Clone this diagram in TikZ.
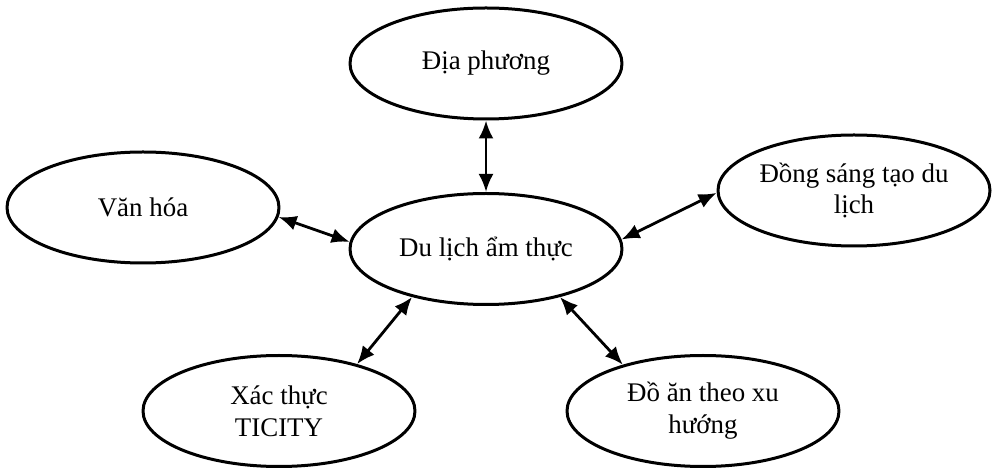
\documentclass[tikz,border=0pt]{standalone}
\usepackage{fontspec}
\setmainfont{Liberation Serif}
\usepackage{tikz}
\usetikzlibrary{arrows.meta, shapes.geometric, positioning}

\begin{document}
\begin{tikzpicture}[>={Latex[length=18bp,width=15bp]},line join=bevel,
    topic/.style={draw, ellipse, line width=3bp, minimum width=272bp,
      minimum height=111bp, inner sep=0pt, align=center,
      font=\fontsize{27}{32}\selectfont},
    link/.style={<->, line width=2.8bp}]
  \useasboundingbox (0bp,0bp) rectangle (992bp,468bp);
%%
  % Node: main
  \node[topic] (main) at (486bp,219bp) {Du lịch ẩm thực};
  % Node: diaphuong
  \node[topic] (diaphuong) at (486bp,404.5bp) {Địa phương};
  % Node: vanhoa
  \node[topic] (vanhoa) at (143bp,260.5bp) {Văn hóa};
  % Node: dongsangtao
  \node[topic] (dongsangtao) at (854bp,277.5bp) {Đồng sáng tạo du\\lịch};
  % Node: xacthuc
  \node[topic] (xacthuc) at (279bp,57bp) {Xác thực\\TICITY};
  % Node: doan
  \node[topic] (doan) at (703bp,57bp) {Đồ ăn theo xu\\hướng};
%%
  % Edge: diaphuong -- main
  \draw[link] (diaphuong.south) -- (main.north);
  % Edge: vanhoa -- main
  \draw[link] (vanhoa.-4) -- (main.177);
  % Edge: dongsangtao -- main
  \draw[link] (dongsangtao.181) -- (main.4);
  % Edge: xacthuc -- main
  \draw[link] (xacthuc.31) -- (main.213);
  % Edge: doan -- main
  \draw[link] (doan.150) -- (main.327);
%
\end{tikzpicture}
\end{document}
